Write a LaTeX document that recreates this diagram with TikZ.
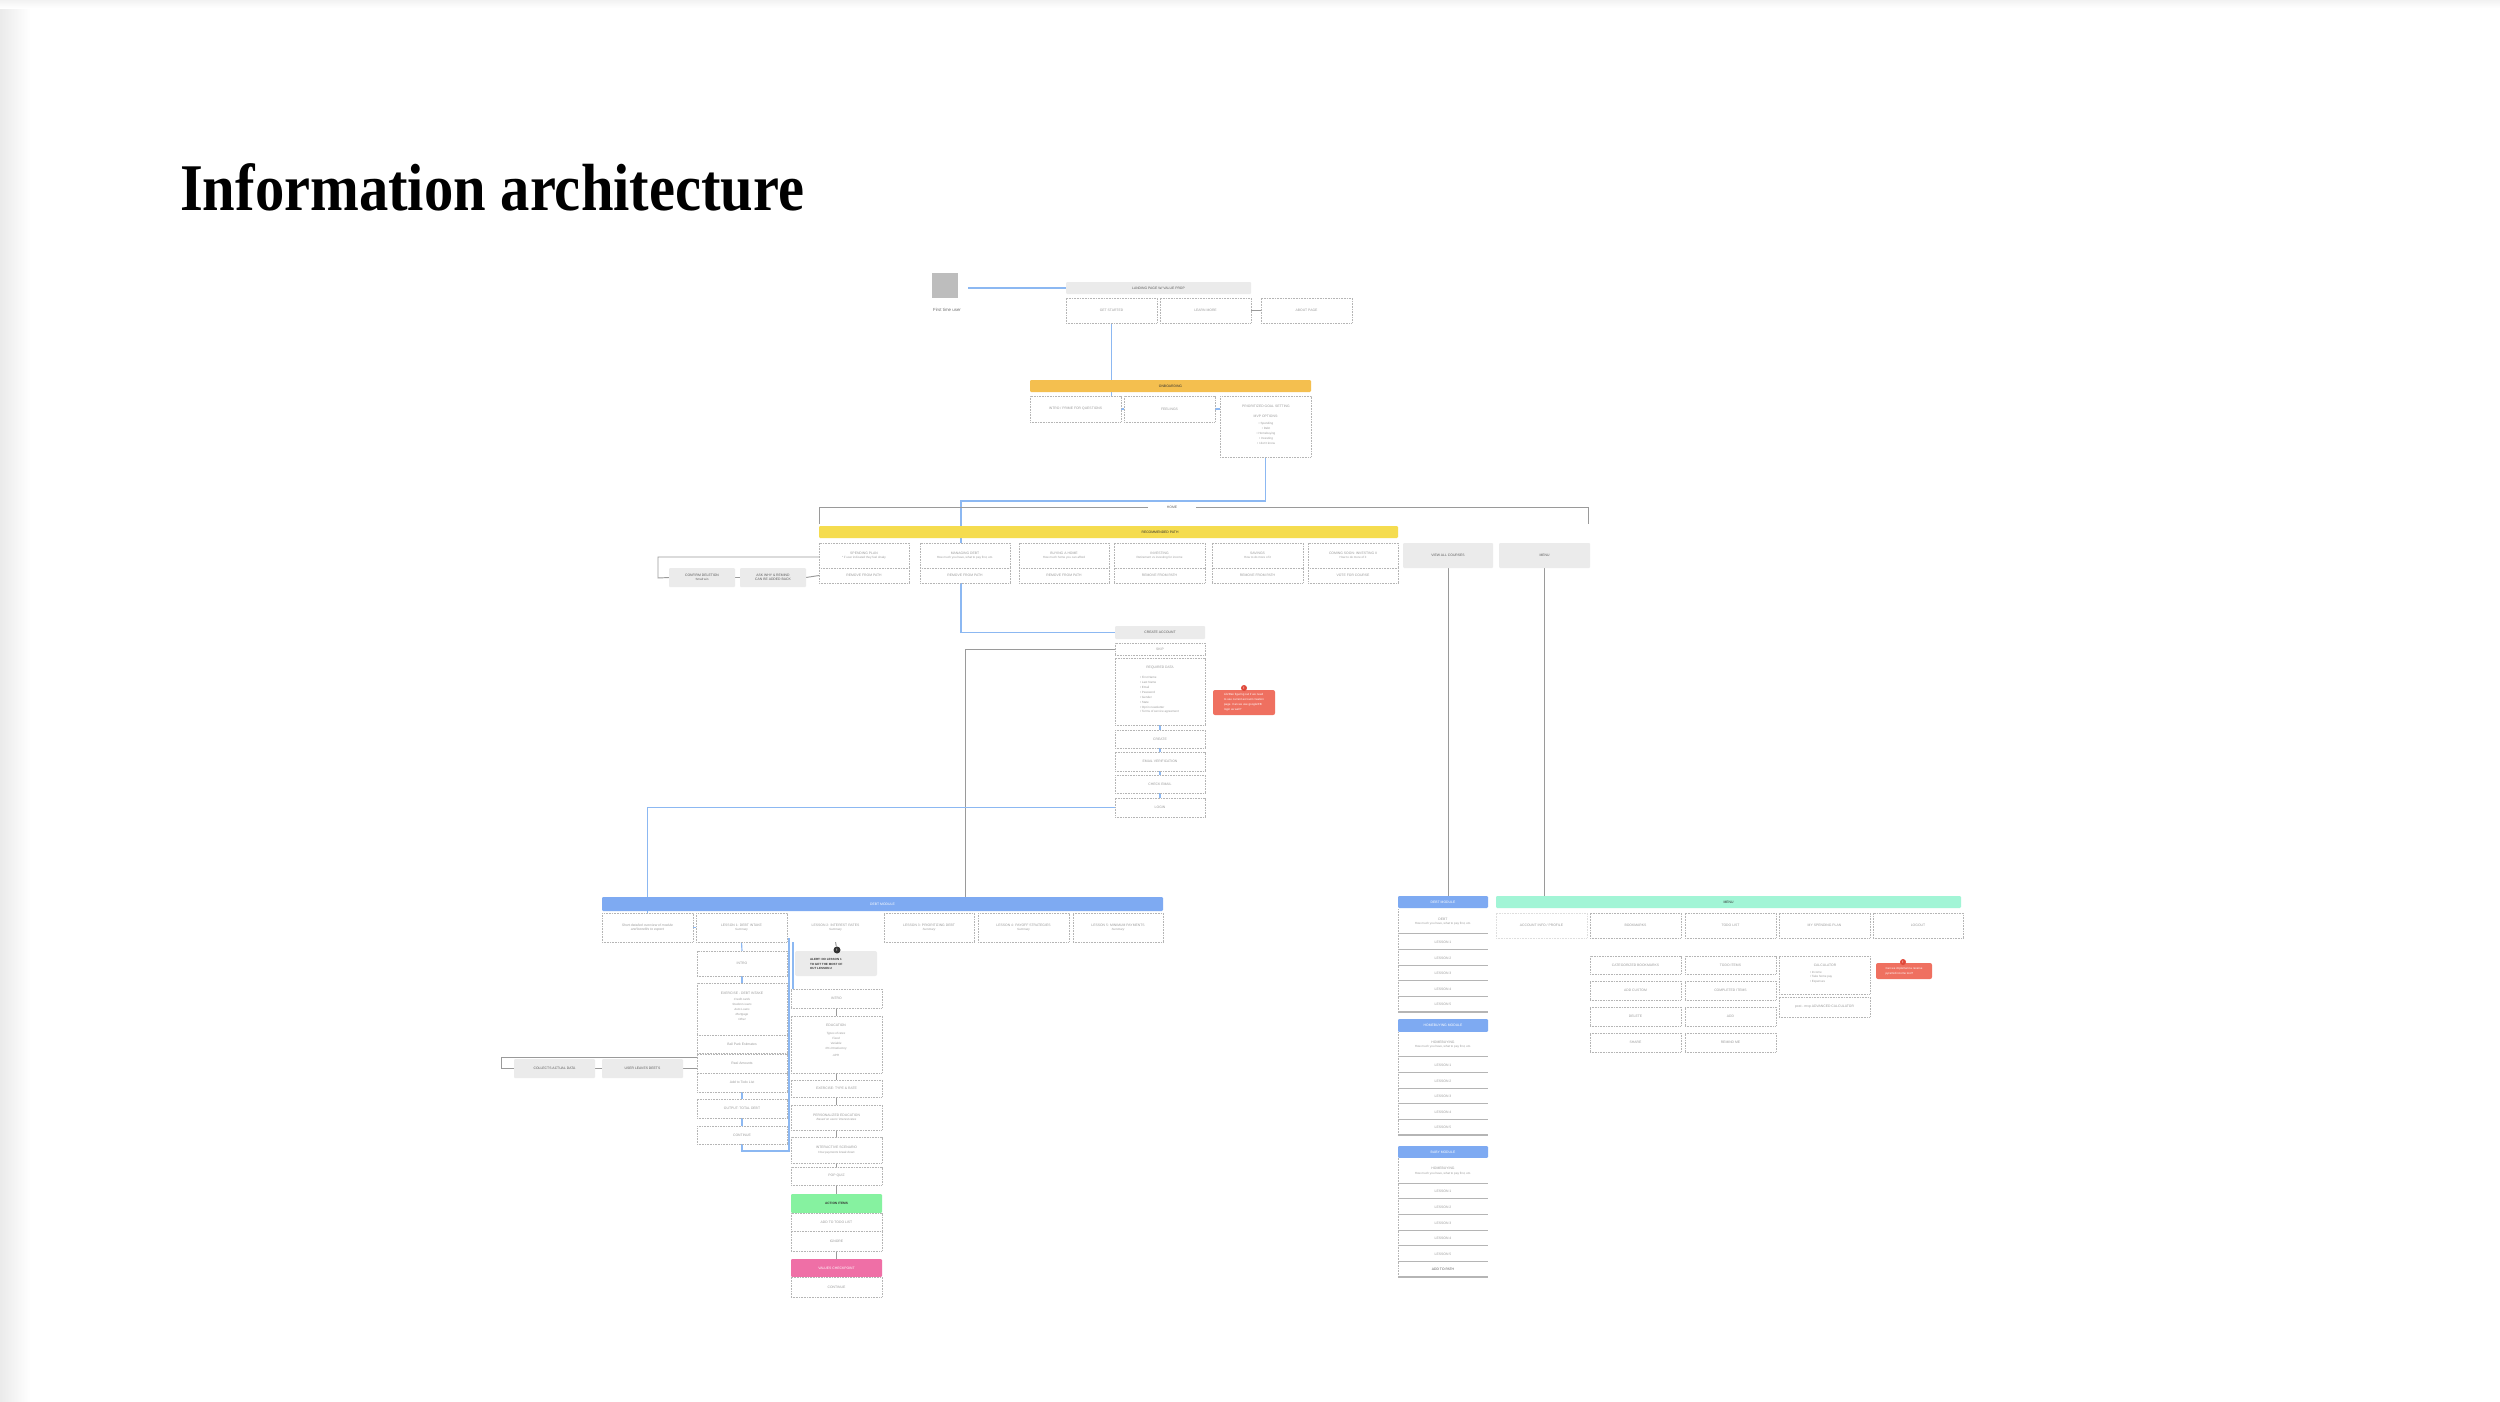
\documentclass[tikz,border=0pt]{standalone}
\usepackage{fontspec}
\setmainfont{Liberation Sans}
\setsansfont{Liberation Sans}
\newfontfamily\ttlfont{Liberation Serif}
\usetikzlibrary{calc}
\pgfdeclarelayer{background}
\pgfdeclarelayer{paper}
\pgfsetlayers{paper,background,main}
\definecolor{blu}{HTML}{8CB8F2}
\definecolor{lgray}{HTML}{9A9A9A}
\definecolor{bordgray}{HTML}{B5B5B5}
\definecolor{txtgray}{HTML}{9B9B9B}
\definecolor{hdrgray}{HTML}{EBEBEB}
\definecolor{dark}{HTML}{333333}
\definecolor{onb}{HTML}{F4BF4F}
\definecolor{rec}{HTML}{F5DC4F}
\definecolor{dblue}{HTML}{7EAAF2}
\definecolor{mint}{HTML}{A2F5D6}
\definecolor{grn}{HTML}{86F2A0}
\definecolor{pnk}{HTML}{EF6FA6}
\definecolor{notered}{HTML}{EF7060}
\definecolor{badgered}{HTML}{E0483A}
\definecolor{sqgray}{HTML}{BDBDBD}
\newcommand{\mkbox}[7][box]{\node[#1, minimum width={(#4-#2)*1pt}, minimum height={(#5-#3)*1pt}] (#6) at ({(#2+#4)/2},{(#3+#5)/2}) {#7};}
\newcommand{\sub}[1]{\\{\fontsize{3.0}{4.2}\selectfont #1}}
\newcommand{\subi}[1]{\\{\fontsize{3.0}{4.2}\selectfont\itshape #1}}
\tikzset{
  base/.style={inner sep=0pt, outer sep=0pt, font=\sffamily\fontsize{3.4}{4.4}\selectfont, align=center, text=txtgray},
  box/.style={base, draw=bordgray, line width=0.7pt, dash pattern=on 1pt off 0.6pt, fill=white},
  lbox/.style={box, draw=bordgray!45},
  hdr/.style={base, fill=hdrgray, rounded corners=1pt, text=dark!80},
  bar/.style={base, rounded corners=1.2pt, text=dark},
  lst/.style={base, fill=white, path picture={
      \draw[draw=bordgray, line width=1.3pt] (path picture bounding box.south west) -- (path picture bounding box.south east);
      \draw[draw=bordgray, line width=1.6pt, dash pattern=on 1pt off 0.6pt] (path picture bounding box.south west) -- (path picture bounding box.north west);}},
  bl/.style={draw=blu, line width=1.15pt},
  gl/.style={draw=lgray, line width=0.95pt},
  note/.style={base, fill=notered, rounded corners=2pt, text=white, align=left, font=\sffamily\fontsize{2.9}{4.9}\selectfont},
  txt/.style={base},
}
\begin{document}
\begin{tikzpicture}[x=1pt,y=-1pt]
\useasboundingbox (0,0) rectangle (2500,1401);
\begin{pgfonlayer}{paper}
\fill[white] (0,0) rectangle (2500,1401);
\shade[left color=black!8, right color=white] (0,0) rectangle (30,1401);
\shade[top color=black!5, bottom color=white] (0,0) rectangle (2500,8);
\end{pgfonlayer}

% title
\node[anchor=base west, inner sep=0pt] (title) at (180,210) {\scalebox{1.01}[1.15]{\ttlfont\bfseries\fontsize{58}{60}\selectfont Information architecture}};

% top
\mkbox[base, fill=sqgray]{932}{273}{958}{298}{sq}{}
\node[base, text=dark!70, font=\sffamily\fontsize{4.4}{5}\selectfont] (usr) at (947,310) {First time user};
\coordinate (sqe) at (968,288);
\mkbox[hdr]{1066}{282}{1251}{294}{lp}{LANDING PAGE W/ VALUE PROP}
\mkbox{1066}{298}{1157}{323}{gs}{GET STARTED}
\mkbox{1160}{298}{1251}{323}{lm}{LEARN MORE}
\mkbox{1261}{298}{1352}{323}{ab}{ABOUT PAGE}

\mkbox[bar, fill=onb]{1030}{380}{1311}{392}{ob}{ONBOARDING}
\mkbox{1030}{396}{1121}{422}{in}{INTRO / PRIME FOR QUESTIONS}
\mkbox{1124}{396}{1215}{422}{fe}{FEELINGS}
\mkbox{1220}{396}{1311}{457}{pg}{}
\node[txt] (pgt) at (1266,406) {PRIORITIZED GOAL SETTING};
\node[txt] (pgm) at (1266,416) {MVP OPTIONS:};
\node[txt, anchor=north, font=\sffamily\fontsize{3.0}{4.9}\selectfont] (pgl) at (1266,422.5) {• Spending\\• Debt\\• Homebuying\\• Investing\\• I don't know};

% recommended path
\node[txt, text=dark!75, minimum width=48pt] (home) at (1172,507) {HOME};
\coordinate (hl) at (819,524);
\coordinate (hr) at (1588,524);
\mkbox[bar, fill=rec]{819}{526}{1398}{538}{rp}{}
\node[txt, text=dark] (rpt) at (1160,532) {RECOMMENDED PATH};
\mkbox{819}{543}{909}{568}{r1t}{SPENDING PLAN\sub{* if user indicated they feel shaky}}
\mkbox{819}{568}{909}{583}{r1b}{REMOVE FROM PATH}
\mkbox{920}{543}{1010}{568}{r2t}{MANAGING DEBT\sub{How much you have, what to pay first, etc.}}
\mkbox{920}{568}{1010}{583}{r2b}{REMOVE FROM PATH}
\mkbox{1019}{543}{1109}{568}{r3t}{BUYING A HOME\sub{How much home you can afford}}
\mkbox{1019}{568}{1109}{583}{r3b}{REMOVE FROM PATH}
\mkbox{1114}{543}{1205}{568}{r4t}{INVESTING\sub{Retirement vs investing for income}}
\mkbox{1114}{568}{1205}{583}{r4b}{REMOVE FROM PATH}
\mkbox{1212}{543}{1303}{568}{r5t}{SAVINGS\sub{How to do more of it}}
\mkbox{1212}{568}{1303}{583}{r5b}{REMOVE FROM PATH}
\mkbox{1308}{543}{1398}{568}{r6t}{COMING SOON: INVESTING II\sub{How to do more of it}}
\mkbox{1308}{568}{1398}{583}{r6b}{VOTE FOR COURSE}
\mkbox[hdr]{669}{568}{735}{587}{cd}{CONFIRM DELETION\sub{Small win}}
\mkbox[hdr]{740}{568}{806}{587}{aw}{ASK WHY \& REMIND\\CAN BE ADDED BACK}
\coordinate (cdl) at (658,578);
\coordinate (cdu) at (658,557);
\mkbox[hdr]{1403}{543}{1493}{568}{va}{VIEW ALL COURSES}
\mkbox[hdr]{1499}{543}{1590}{568}{mn}{MENU}

% create account
\mkbox[hdr]{1115}{626}{1205}{639}{ca}{CREATE ACCOUNT}
\mkbox{1115}{643}{1205}{655}{sk}{SKIP}
\mkbox{1115}{658}{1205}{725}{rd}{}
\node[txt] (rdt) at (1160,668) {REQUIRED DATA};
\node[txt, anchor=north west, align=left, font=\sffamily\fontsize{3.0}{4.9}\selectfont] (rdl) at (1140,676.5) {• First Name\\• Last Name\\• Email\\• Password\\• Gender\\• State\\• Opt in newsletter\\• Terms of service agreement};
\mkbox{1115}{730}{1205}{748}{cr}{CREATE}
\mkbox{1115}{752}{1205}{771}{ev}{EMAIL VERIFICATION}
\mkbox{1115}{775}{1205}{793}{ce}{CHECK EMAIL}
\mkbox{1115}{798}{1205}{817}{lg}{LOGIN}
\mkbox[note]{1213}{690}{1275}{715}{n1}{Lib/Dan figuring out if we need\\to use current account creation\\page. Can we use google/FB\\login as well?}
\node[circle, fill=badgered, minimum size=6pt, inner sep=0pt, text=white, font=\sffamily\bfseries\fontsize{3.5}{4}\selectfont] (bn1) at (1244,688) {!};

% debt module (left)
\mkbox[bar, fill=dblue, text=white]{602}{897}{1163}{911}{db}{DEBT MODULE}
\mkbox{602}{913}{693}{942}{ov}{\itshape Short detailed overview of module\\\itshape and benefits to expect}
\mkbox{696}{913}{787}{942}{l1}{LESSON 1: DEBT INTAKE\subi{Summary}}
\mkbox[base, fill=white]{790}{913}{881}{942}{l2}{LESSON 2: INTEREST RATES\subi{Summary}}
\mkbox{884}{913}{974}{942}{l3}{LESSON 3: PRIORITIZING DEBT\subi{Summary}}
\mkbox{978}{913}{1069}{942}{l4}{LESSON 4: PAYOFF STRATEGIES\subi{Summary}}
\mkbox{1073}{913}{1163}{942}{l5}{LESSON 5: MINIMUM PAYMENTS\subi{Summary}}

% lesson 1 column
\mkbox{697}{951}{787}{976}{a1}{INTRO}
\mkbox{697}{983}{787}{1035}{a2}{}
\node[txt] (a2t) at (742,993) {EXERCISE - DEBT INTAKE};
\node[txt, anchor=north, font=\sffamily\itshape\fontsize{3.0}{5}\selectfont] (a2l) at (742,998.5) {Credit cards\\Student Loans\\Auto Loans\\Mortgage\\Other};
\mkbox{697}{1035}{787}{1053}{a3}{Ball Park Estimates}
\mkbox{697}{1054}{787}{1073}{a4}{Real Amounts}
\mkbox{697}{1073}{787}{1092}{a5}{Add to Todo List}
\mkbox{697}{1099}{787}{1118}{a6}{OUTPUT: TOTAL DEBT}
\mkbox{697}{1126}{787}{1144}{a7}{CONTINUE}
\mkbox[hdr]{514}{1059}{595}{1078}{cad}{COLLECTS ACTUAL DATA}
\mkbox[hdr]{602}{1059}{683}{1078}{uld}{USER LEAVES DEETS}
\coordinate (ct1) at (501,1057);
\coordinate (ct2) at (501,1068.5);
\coordinate (lp1) at (742,1151);
\coordinate (lp2) at (789,1151);
\coordinate (lp3) at (789,939);
\coordinate (lp4) at (793,939);
\coordinate (lp5) at (793,989);

% lesson 2 column
\mkbox[hdr, rounded corners=2pt]{795}{951}{877}{976}{al}{}
\node[base, anchor=west, align=left, text=dark, font=\sffamily\bfseries\fontsize{3.0}{4.8}\selectfont] (alt) at (810,964) {ALERT: DO LESSON 1\\TO GET THE MOST OF\\OUT LESSON 2};
\node[circle, fill=dark, minimum size=7pt, inner sep=0pt, text=white, font=\sffamily\bfseries\fontsize{3.5}{4}\selectfont] (bd1) at (837,950) {!};
\mkbox{791}{989}{882}{1008}{b1}{INTRO}
\mkbox{791}{1016}{882}{1073}{b2}{}
\node[txt] (b2t) at (836,1025) {EDUCATION};
\node[txt, anchor=north, font=\sffamily\itshape\fontsize{3.0}{5}\selectfont] (b2l) at (836,1032) {Types of rates\\Fixed\\Variable\\0\% Introductory\\[2pt]APR};
\mkbox{791}{1080}{882}{1097}{b3}{EXERCISE: TYPE \& RATE}
\mkbox{791}{1105}{882}{1130}{b4}{PERSONALIZED EDUCATION\subi{Based on users' interest rates}}
\mkbox{791}{1137}{882}{1163}{b5}{INTERACTIVE SCENARIO\subi{How payments break down}}
\mkbox{791}{1167}{882}{1185}{b6}{POP QUIZ}
\mkbox[bar, fill=grn, text=dark, font=\sffamily\bfseries\fontsize{3.2}{4}\selectfont]{791}{1194}{882}{1213}{b7}{ACTION ITEMS}
\mkbox{791}{1213}{882}{1231}{b8}{ADD TO TODO LIST}
\mkbox{791}{1231}{882}{1251}{b9}{IGNORE}
\mkbox[bar, fill=pnk, text=white]{791}{1259}{882}{1277}{b10}{VALUES CHECKPOINT}
\mkbox{791}{1277}{882}{1297}{b11}{CONTINUE}

% right column (view all courses)
\mkbox[bar, fill=dblue, text=white]{1398}{896}{1488}{908}{dm2}{DEBT MODULE}
\mkbox[lst]{1398}{909}{1488}{934}{d0}{DEBT\sub{How much you have, what to pay first, etc.}}
\mkbox[lst]{1398}{934}{1488}{950}{d1}{LESSON 1}
\mkbox[lst]{1398}{950}{1488}{966}{d2}{LESSON 2}
\mkbox[lst]{1398}{966}{1488}{981}{d3}{LESSON 3}
\mkbox[lst]{1398}{981}{1488}{997}{d4}{LESSON 4}
\mkbox[lst]{1398}{997}{1488}{1012}{d5}{LESSON 5}
\mkbox[bar, fill=dblue, text=white]{1398}{1019}{1488}{1032}{hm}{HOMEBUYING MODULE}
\mkbox[lst]{1398}{1032}{1488}{1057}{h0}{HOMEBUYING\sub{How much you have, what to pay first, etc.}}
\mkbox[lst]{1398}{1057}{1488}{1073}{h1}{LESSON 1}
\mkbox[lst]{1398}{1073}{1488}{1089}{h2}{LESSON 2}
\mkbox[lst]{1398}{1089}{1488}{1104}{h3}{LESSON 3}
\mkbox[lst]{1398}{1104}{1488}{1120}{h4}{LESSON 4}
\mkbox[lst]{1398}{1120}{1488}{1135}{h5}{LESSON 5}
\mkbox[bar, fill=dblue, text=white]{1398}{1146}{1488}{1158}{bm}{BABY MODULE}
\mkbox[lst]{1398}{1158}{1488}{1184}{c0}{HOMEBUYING\sub{How much you have, what to pay first, etc.}}
\mkbox[lst]{1398}{1184}{1488}{1199}{c1}{LESSON 1}
\mkbox[lst]{1398}{1199}{1488}{1215}{c2}{LESSON 2}
\mkbox[lst]{1398}{1215}{1488}{1231}{c3}{LESSON 3}
\mkbox[lst]{1398}{1231}{1488}{1246}{c4}{LESSON 4}
\mkbox[lst]{1398}{1246}{1488}{1262}{c5}{LESSON 5}
\mkbox[lst, text=dark!80]{1398}{1262}{1488}{1277}{c6}{ADD TO PATH}

% menu
\mkbox[bar, fill=mint]{1496}{896}{1961}{908}{mb}{MENU}
\mkbox[lbox]{1496}{913}{1587}{938}{m1}{ACCOUNT INFO / PROFILE}
\mkbox{1590}{913}{1681}{938}{m2}{BOOKMARKS}
\mkbox{1685}{913}{1776}{938}{m3}{TODO LIST}
\mkbox{1779}{913}{1870}{938}{m4}{MY SPENDING PLAN}
\mkbox{1873}{913}{1963}{938}{m5}{LOGOUT}
\mkbox{1590}{956}{1681}{974}{k1}{CATEGORIZED BOOKMARKS}
\mkbox{1590}{981}{1681}{1000}{k2}{ADD CUSTOM}
\mkbox{1590}{1007}{1681}{1026}{k3}{DELETE}
\mkbox{1590}{1033}{1681}{1052}{k4}{SHARE}
\mkbox{1685}{956}{1776}{974}{t1}{TODO ITEMS}
\mkbox{1685}{981}{1776}{1000}{t2}{COMPLETED ITEMS}
\mkbox{1685}{1007}{1776}{1026}{t3}{ADD}
\mkbox{1685}{1033}{1776}{1052}{t4}{REMIND ME}
\mkbox{1779}{956}{1870}{994}{calc}{}
\node[txt] (calct) at (1825,965) {CALCULATOR};
\node[txt, anchor=north west, align=left, font=\sffamily\fontsize{3.0}{4.9}\selectfont] (calcl) at (1810,971) {• Income\\• Take home pay\\• Expenses};
\mkbox{1779}{997}{1870}{1017}{adv}{post - mvp ADVANCED CALCULATOR}
\mkbox[note]{1876}{963}{1932}{979}{n2}{Can we implement a reverse\\pyramid income tool?}
\node[circle, fill=badgered, minimum size=6pt, inner sep=0pt, text=white, font=\sffamily\bfseries\fontsize{3.5}{4}\selectfont] (bn2) at (1903,962) {!};

% connectors
\begin{pgfonlayer}{background}
\coordinate (j1) at (1266,501);
\coordinate (j2) at (961,501);
\coordinate (j3) at (965,649);
\draw[bl] (sqe) -- (lp.west);
\draw[gl] (lm.east) -- (ab.west);
\draw[bl] (gs.south) -- (gs.south |- in.north);
\draw[bl] (in.east) -- (fe.west);
\draw[bl] (fe.east) -- (pg.west |- fe.east);
\draw[bl] (pg.south) -- (pg.south |- j1) -- (j2) -- (j2 |- ca.west) -- (ca.west);
\draw[gl] (hl) |- (home.west);
\draw[gl] (home.east) -| (hr);
\draw[gl] (r1b.west) -- (aw.east);
\draw[gl] (aw.west) -- (cd.east);
\draw[gl] (cd.west) -- (cdl) -- (cdu) -- (r1t.west |- cdu);
\draw[gl] (va.south) -- (va.south |- dm2.north);
\draw[gl] (mn.south) -- (mn.south |- mb.north);
\draw[bl] (rd.south) -- (cr.north);
\draw[bl] (cr.south) -- (ev.north);
\draw[bl] (ev.south) -- (ce.north);
\draw[bl] (ce.south) -- (lg.north);
\draw[gl] (sk.west) -- (sk.west -| j3) -- (db.north -| j3);
\draw[bl] (lg.west) -| (ov.north);
\draw[bl] (ov.east) -- (l1.west);
\draw[bl] (l1.south) -- (a1.north);
\draw[bl] (a1.south) -- (a2.north);
\draw[bl] (a5.south) -- (a6.north);
\draw[bl] (a6.south) -- (a7.north);
\draw[bl] (a7.south) -- (lp1) -- (lp2) -- (lp3) -- (lp4) -- (lp5);
\draw[gl] (a4.west |- ct1) -- (ct1) -- (ct2) -- (cad.west);
\draw[gl] (cad.east) -- (uld.west);
\draw[gl] (uld.east) -- (a4.west |- uld.east);
\draw[gl] (l2.south) -- (bd1);
\draw[gl] (b1.south) -- (b2.north);
\draw[gl] (b2.south) -- (b3.north);
\draw[gl] (b3.south) -- (b4.north);
\draw[gl] (b4.south) -- (b5.north);
\draw[gl] (b5.south) -- (b6.north);
\draw[gl] (b6.south) -- (b7.north);
\draw[gl] (b9.south) -- (b10.north);
\end{pgfonlayer}
\end{tikzpicture}
\end{document}
